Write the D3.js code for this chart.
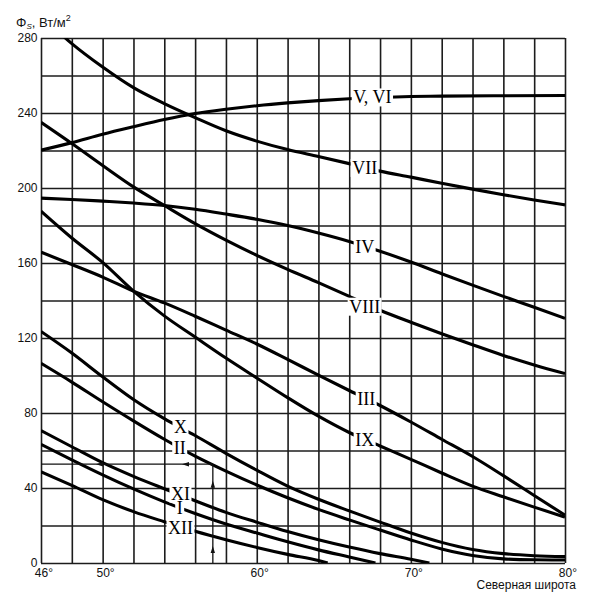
<!DOCTYPE html>
<html>
<head>
<meta charset="utf-8">
<script src="https://cdn.jsdelivr.net/npm/d3@7"></script>
<style>
  body { margin: 0; background: #fff; }
  svg { display: block; }
</style>
</head>
<body>
<div id="chart"></div>
<script>
// grid & tick values
var gridLat = d3.range(46, 81, 2),
    labeledLat = [46, 50, 60, 70, 80],
    gridVal = d3.range(0, 281, 20);

// curves, [latitude, Phi_S]
var curveVVI = [[46,220.2],[48,224.2],[50,228.7],[52,232.7],[54,236.5],[56,239.7],[58,242],[60,243.9],[62,245.4],[64,246.6],[66,247.6],[68,248.3],[70,248.8],[72,249],[76,249.2],[80,249.3]];
var curveVII = [[46,292],[48,277],[50,264.5],[52,253.5],[54,245],[56,237.5],[58,230.5],[60,225],[62,220.5],[64,216.8],[66,213],[68,209],[70,205.8],[72,202.5],[74,199.4],[76,196.4],[78,193.6],[80,191]];
var curveIV = [[46,194.6],[48,193.9],[50,193],[52,192],[54,190.7],[56,188.7],[58,186.1],[60,183.3],[62,180],[64,176],[66,171.5],[68,166.3],[70,160.5],[72,154.3],[74,148.2],[76,142.2],[78,136.4],[80,130.5]];
var curveVIII = [[46,235],[48,223.7],[50,212],[52,200.6],[54,190.7],[56,181],[58,172.2],[60,164.1],[62,156.6],[64,149.5],[66,142.2],[68,134.8],[70,128.4],[72,122.3],[74,116.4],[76,110.7],[78,105.6],[80,101]];
var curveIII = [[46,165.8],[48,159.2],[50,152.5],[52,145],[54,138.7],[56,131.6],[58,124.2],[60,116.8],[62,108.6],[64,100.2],[66,92],[68,84],[70,75.2],[72,66],[74,56.8],[76,46.6],[78,36],[80,25.5]];
var curveIX = [[46,187.6],[48,173.3],[50,160.3],[52,145],[54,131.8],[56,120.5],[58,109.3],[60,98.7],[62,88.2],[64,78.3],[66,69.6],[68,62.4],[70,55.3],[72,48],[74,41],[76,35.3],[78,29.8],[80,24.5]];
var curveX = [[46,123.5],[48,112],[50,99.3],[52,87.2],[54,77],[56,68],[58,58.5],[60,49.5],[62,41],[64,34],[66,27.8],[68,21.8],[70,16],[72,11],[74,7.2],[76,5],[78,3.9],[80,3.4]];
var curveII = [[46,106.5],[48,96.5],[50,86],[52,75.8],[54,66],[56,57],[58,49],[60,41.6],[62,34.8],[64,28.6],[66,23],[68,17.6],[70,12.3],[72,7.5],[74,4],[76,2.2],[78,1.7],[80,1.6]];
var curveXI = [[46,70.6],[48,62],[50,53.5],[52,46.2],[54,39.6],[56,33.2],[58,27],[60,21.8],[62,16.8],[64,12.4],[66,8.5],[68,5],[70,2],[71.2,0]];
var curveI = [[46,63.3],[48,55],[50,47],[52,39.5],[54,32.6],[56,26.4],[58,20.8],[60,16],[62,11.3],[64,7],[66,3.2],[67.7,0]];
var curveXII = [[46,48.7],[48,41.4],[50,33.8],[52,27.4],[54,22],[56,16.9],[58,12.4],[60,8.3],[62,4.6],[64,1.3],[64.6,0]];

// curve labels (months) and where they sit
var labelNames = ["V, VI", "VII", "IV", "VIII", "III", "IX", "X", "II", "XI", "I", "XII"],
    labelLat = [67.5, 67, 67, 67, 67.1, 67, 55.05, 55, 55.05, 55, 55.05],
    labelVal = [248.3, 210.7, 168.3, 136.7, 87.5, 65.6, 72.7, 61.1, 37, 29.2, 18.9];

// reading example (arrows)
var readLat = 57.15, readVal = 52.7,
    upArrowVals = [9.1, 43.9],
    leftArrowLats = [49.57, 55.15];

var width = 590, height = 601;

var svg = d3.select("#chart").append("svg")
    .attr("width", width)
    .attr("height", height);

var x = d3.scaleLinear().domain([46, 80]).range([41, 565]),
    y = d3.scaleLinear().domain([0, 280]).range([563, 38]);

var gridColor = "#1c1c1c",
    sansFont = "Liberation Sans, Arial, sans-serif";

// vertical grid + x tick labels
var gx = svg.append("g")
    .attr("transform", "translate(0," + y(0) + ")")
    .call(d3.axisBottom(x)
        .tickValues(gridLat)
        .tickSize(-(y(0) - y(280)))
        .tickPadding(5.5)
        .tickFormat(function (d) { return labeledLat.indexOf(d) >= 0 ? d + "°" : ""; }));
gx.select(".domain").remove();
gx.selectAll("line").attr("stroke", gridColor).attr("stroke-width", 1.6);
gx.selectAll("text")
    .attr("dx", 2.4)
    .attr("font-family", sansFont)
    .attr("font-size", 12)
    .attr("fill", "#111");

// horizontal grid + y tick labels
var gy = svg.append("g")
    .attr("transform", "translate(" + x(46) + ",0)")
    .call(d3.axisLeft(y)
        .tickValues(gridVal)
        .tickSize(-(x(80) - x(46)))
        .tickPadding(3.5)
        .tickFormat(function (d) { return d % 40 === 0 ? d : ""; }));
gy.select(".domain").remove();
gy.selectAll("line").attr("stroke", gridColor).attr("stroke-width", 1.6);
gy.selectAll("text")
    .attr("font-family", sansFont)
    .attr("font-size", 12)
    .attr("fill", "#111");

// clip for the curves
svg.append("clipPath").attr("id", "plotClip")
    .append("rect")
    .attr("x", x(46)).attr("y", y(280))
    .attr("width", x(80) - x(46)).attr("height", y(0) - y(280));

var line = d3.line()
    .x(function (d) { return x(d[0]); })
    .y(function (d) { return y(d[1]); })
    .curve(d3.curveMonotoneX);

var curves = [curveVVI, curveVII, curveIV, curveVIII, curveIII, curveIX, curveX, curveII, curveXI, curveI, curveXII];

svg.append("g").attr("clip-path", "url(#plotClip)")
    .selectAll("path")
    .data(curves)
    .enter().append("path")
    .attr("d", line)
    .attr("fill", "none")
    .attr("stroke", "#000")
    .attr("stroke-width", 3.1)
    .attr("stroke-linejoin", "round");

// reading example: vertical line up from the axis, horizontal line to the left
var ann = svg.append("g").attr("stroke", "#111").attr("fill", "#111");
ann.append("line")
    .attr("x1", x(readLat)).attr("y1", y(0))
    .attr("x2", x(readLat)).attr("y2", y(readVal))
    .attr("stroke-width", 1.3);
ann.append("line")
    .attr("x1", x(46)).attr("y1", y(readVal))
    .attr("x2", x(readLat)).attr("y2", y(readVal))
    .attr("stroke-width", 1.3);
ann.selectAll(".up").data(upArrowVals).enter().append("path")
    .attr("stroke", "none")
    .attr("d", function (d) {
        var px = x(readLat), py = y(d);
        return "M" + px + "," + py + "L" + (px - 2.2) + "," + (py + 7) + "L" + (px + 2.2) + "," + (py + 7) + "Z";
    });
ann.selectAll(".left").data(leftArrowLats).enter().append("path")
    .attr("stroke", "none")
    .attr("d", function (d) {
        var px = x(d), py = y(readVal);
        return "M" + px + "," + py + "L" + (px + 7) + "," + (py - 2.2) + "L" + (px + 7) + "," + (py + 2.2) + "Z";
    });

// curve labels with white knock-out (all rects below all texts)
var knockG = svg.append("g"),
    labelG = svg.append("g");

var labelTexts = labelG.selectAll("text")
    .data(labelNames)
    .enter().append("text")
    .attr("x", function (d, i) { return x(labelLat[i]); })
    .attr("y", function (d, i) { return y(labelVal[i]) + 6; })
    .attr("text-anchor", "middle")
    .attr("font-family", "Liberation Serif, Times New Roman, serif")
    .attr("font-size", 18)
    .attr("fill", "#000")
    .text(function (d) { return d; });

labelTexts.each(function () {
    var bb = this.getBBox();
    knockG.append("rect")
        .attr("x", bb.x - 1.5).attr("y", bb.y + 1)
        .attr("width", bb.width + 3).attr("height", bb.height - 2)
        .attr("fill", "#fff");
});

// axis titles
var yTitle = svg.append("text")
    .attr("x", 16).attr("y", 26.5)
    .attr("font-family", sansFont)
    .attr("font-size", 13)
    .attr("fill", "#111");
yTitle.append("tspan").text("Φ");
yTitle.append("tspan").attr("font-size", 8).attr("font-style", "italic").attr("dy", 2).text("S");
yTitle.append("tspan").attr("dy", -2).text(", Вт/м");
yTitle.append("tspan").attr("font-size", 9).attr("dy", -6).text("2");

svg.append("text")
    .attr("x", 576).attr("y", 588.5)
    .attr("text-anchor", "end")
    .attr("font-family", sansFont)
    .attr("font-size", 12)
    .attr("fill", "#111")
    .text("Северная широта");
</script>
</body>
</html>
